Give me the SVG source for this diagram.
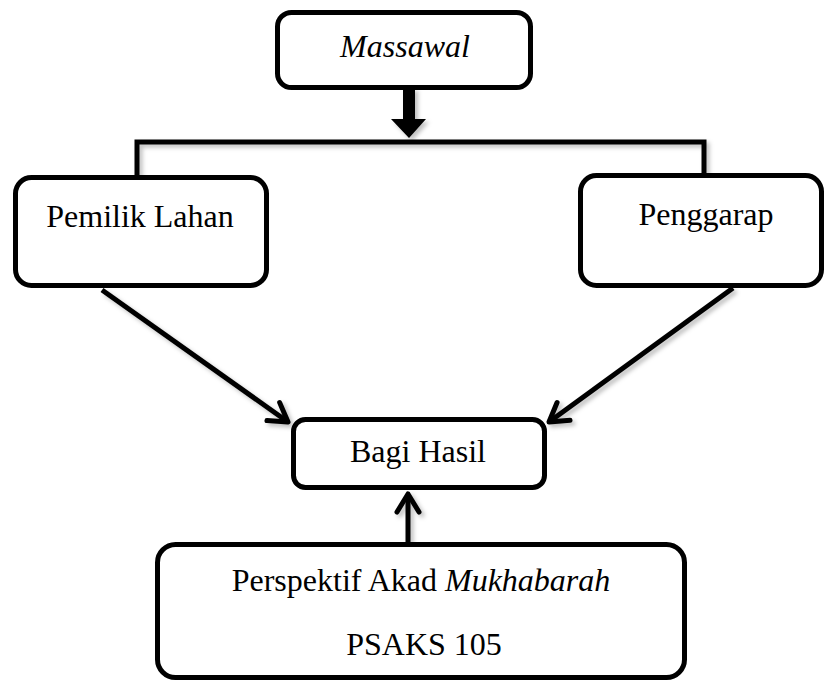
<svg xmlns="http://www.w3.org/2000/svg" width="825" height="682" viewBox="0 0 825 682">
<style>
.box{fill:#fff;stroke:#000;stroke-width:5}
.lbl{font-family:"Liberation Serif","Times New Roman",serif;font-size:32px;fill:#000;text-anchor:middle}
.it{font-style:italic}
.con{fill:none;stroke:#000;stroke-width:5}
</style>
<defs>
<filter id="sh" x="-20%" y="-20%" width="140%" height="140%">
<feDropShadow dx="3" dy="3" stdDeviation="2" flood-color="#000" flood-opacity="0.25"/>
</filter>
<marker id="ah" markerUnits="userSpaceOnUse" markerWidth="40" markerHeight="40" viewBox="-25 -20 30 40" refX="0" refY="0" orient="auto" overflow="visible">
<path d="M-18,-11 L0,0 L-18,11" fill="none" stroke="#000" stroke-width="5" stroke-linecap="round" stroke-linejoin="round"/>
</marker>
</defs>
<rect width="825" height="682" fill="#fff"/>
<g id="connectors" filter="url(#sh)">
<path class="con" d="M137,177 L137,142 L704,142 L704,175"/>
<polygon points="403,88 415,88 415,119 426,119 409,138 391,119 403,119" fill="#000"/>
<line class="con" x1="102" y1="290" x2="288" y2="422" marker-end="url(#ah)"/>
<line class="con" x1="733" y1="288" x2="549" y2="422" marker-end="url(#ah)"/>
<line class="con" x1="408" y1="543" x2="408" y2="494" marker-end="url(#ah)"/>
</g>
<g id="massawal">
<rect class="box" x="277.5" y="12.5" width="253" height="75" rx="14"/>
<text class="lbl it" x="405" y="57">Massawal</text>
</g>
<g id="pemilik-lahan">
<rect class="box" x="15.5" y="177.5" width="251" height="108" rx="16"/>
<text class="lbl" x="140" y="227">Pemilik Lahan</text>
</g>
<g id="penggarap">
<rect class="box" x="580.5" y="175.5" width="241" height="110" rx="16"/>
<text class="lbl" x="706" y="225">Penggarap</text>
</g>
<g id="bagi-hasil">
<rect class="box" x="293.5" y="419.5" width="251" height="68" rx="12"/>
<text class="lbl" x="418" y="462">Bagi Hasil</text>
</g>
<g id="psaks">
<rect class="box" x="157.5" y="544.5" width="527" height="133" rx="18"/>
<text class="lbl" x="421" y="591">Perspektif Akad <tspan class="it">Mukhabarah</tspan></text>
<text class="lbl" x="424" y="655">PSAKS 105</text>
</g>
</svg>
